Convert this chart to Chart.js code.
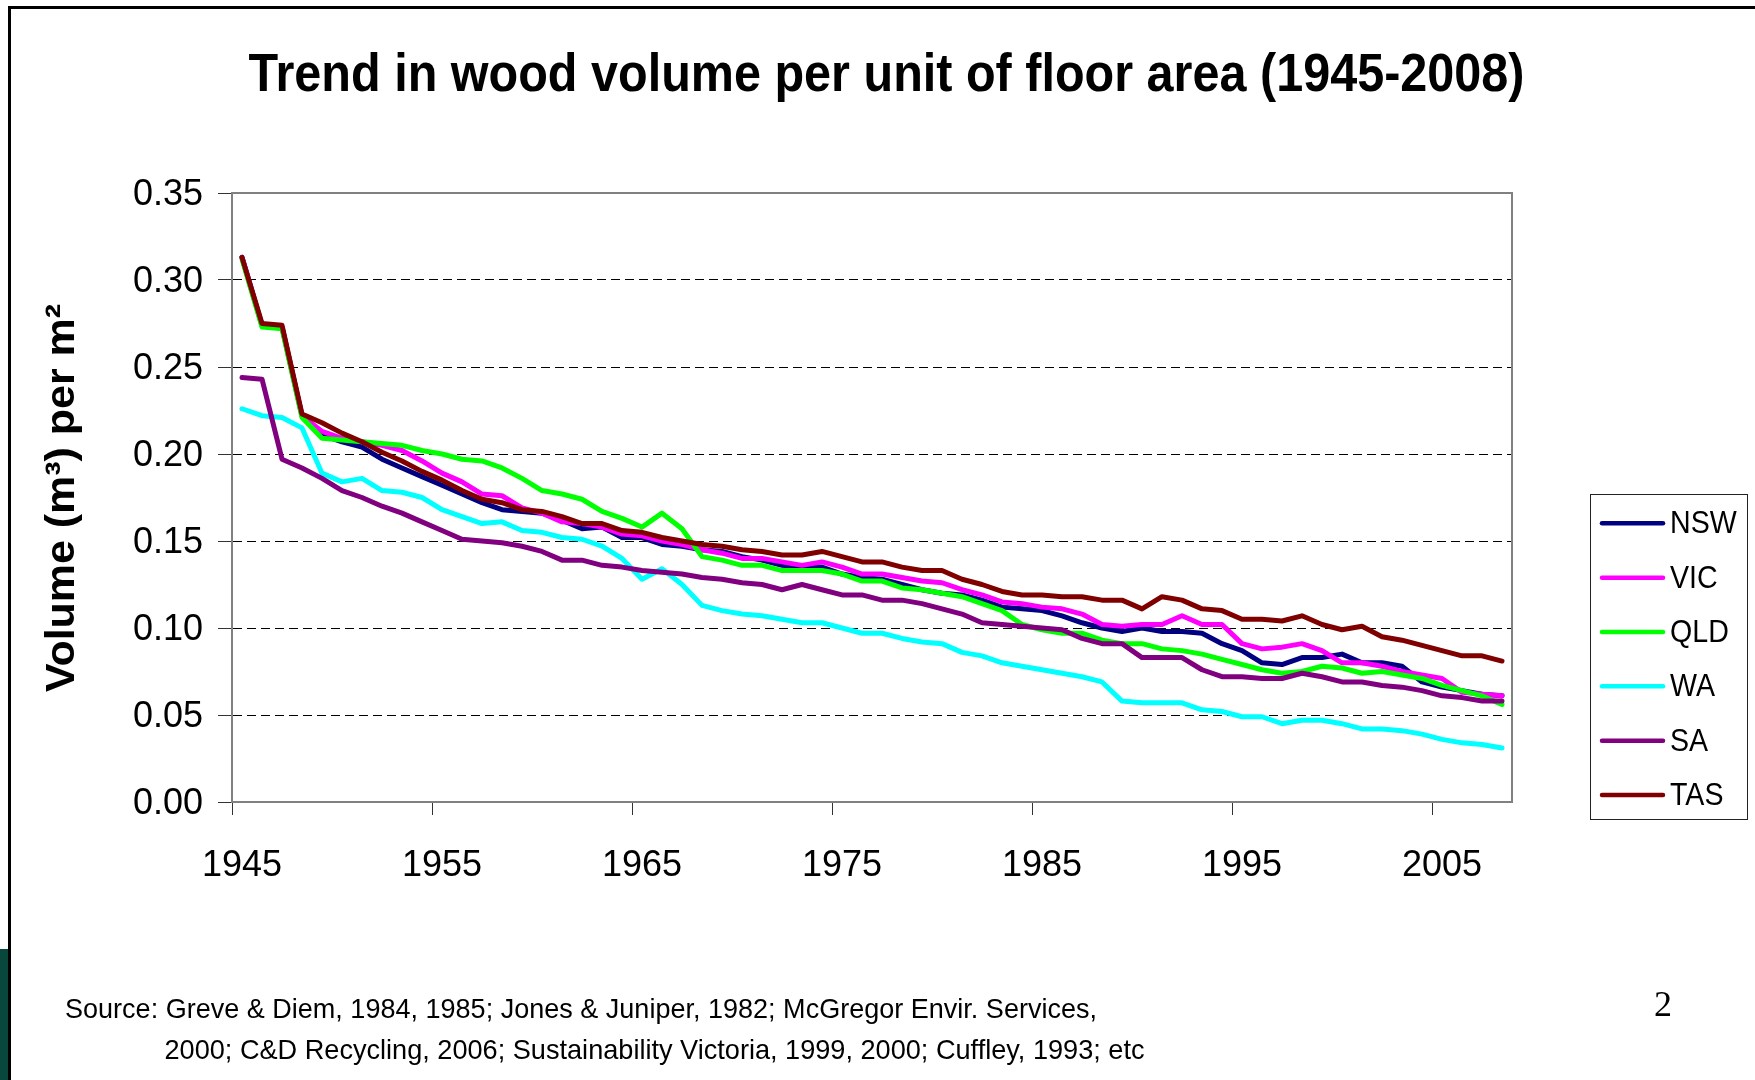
<!DOCTYPE html>
<html>
<head>
<meta charset="utf-8">
<script src="https://cdn.jsdelivr.net/npm/chart.js@4.4.1/dist/chart.umd.min.js"></script>
<style>
  html, body { margin: 0; padding: 0; background: #ffffff; }
  #wrap { width: 1755px; height: 1080px; position: relative; }
</style>
</head>
<body>
<div id="wrap"><canvas id="c" width="1755" height="1080"></canvas></div>
<script>
const years = [];
for (let y = 1945; y <= 2008; y++) years.push(String(y));

const seriesNames = ['NSW', 'VIC', 'QLD', 'WA', 'SA', 'TAS'];
const seriesColors = ['#000080', '#FF00FF', '#00FF00', '#00FFFF', '#800080', '#800000'];

const nsw = [
  0.313, 0.274, 0.273, 0.222, 0.211, 0.207, 0.204, 0.197, 0.192, 0.187,
  0.182, 0.177, 0.172, 0.168, 0.167, 0.166, 0.162, 0.157, 0.158, 0.152,
  0.152, 0.148, 0.147, 0.145, 0.144, 0.141, 0.139, 0.136, 0.135, 0.135,
  0.131, 0.129, 0.128, 0.125, 0.122, 0.120, 0.119, 0.116, 0.112, 0.111,
  0.110, 0.107, 0.103, 0.100, 0.098, 0.100, 0.098, 0.098, 0.097, 0.091,
  0.087, 0.080, 0.079, 0.083, 0.083, 0.085, 0.080, 0.080, 0.078, 0.069,
  0.066, 0.064, 0.062, 0.061
];
const vic = [
  0.313, 0.274, 0.273, 0.222, 0.213, 0.209, 0.207, 0.205, 0.202, 0.196,
  0.189, 0.184, 0.177, 0.176, 0.169, 0.166, 0.161, 0.160, 0.158, 0.154,
  0.153, 0.150, 0.148, 0.145, 0.143, 0.140, 0.140, 0.138, 0.136, 0.138,
  0.135, 0.131, 0.131, 0.129, 0.127, 0.126, 0.122, 0.119, 0.115, 0.114,
  0.112, 0.111, 0.108, 0.102, 0.101, 0.102, 0.102, 0.107, 0.102, 0.102,
  0.091, 0.088, 0.089, 0.091, 0.087, 0.080, 0.080, 0.078, 0.075, 0.073,
  0.071, 0.063, 0.062, 0.061
];
const qld = [
  0.312, 0.273, 0.272, 0.221, 0.209, 0.208, 0.207, 0.206, 0.205, 0.202,
  0.200, 0.197, 0.196, 0.192, 0.186, 0.179, 0.177, 0.174, 0.167, 0.163,
  0.158, 0.166, 0.157, 0.141, 0.139, 0.136, 0.136, 0.133, 0.133, 0.133,
  0.131, 0.127, 0.127, 0.123, 0.122, 0.120, 0.118, 0.114, 0.110, 0.102,
  0.099, 0.097, 0.097, 0.093, 0.091, 0.091, 0.088, 0.087, 0.085, 0.082,
  0.079, 0.076, 0.074, 0.075, 0.078, 0.077, 0.074, 0.075, 0.073, 0.071,
  0.067, 0.064, 0.061, 0.056
];
const wa = [
  0.226, 0.222, 0.221, 0.215, 0.189, 0.184, 0.186, 0.179, 0.178, 0.175,
  0.168, 0.164, 0.160, 0.161, 0.156, 0.155, 0.152, 0.151, 0.147, 0.140,
  0.128, 0.134, 0.125, 0.113, 0.110, 0.108, 0.107, 0.105, 0.103, 0.103,
  0.100, 0.097, 0.097, 0.094, 0.092, 0.091, 0.086, 0.084, 0.080, 0.078,
  0.076, 0.074, 0.072, 0.069, 0.058, 0.057, 0.057, 0.057, 0.053, 0.052,
  0.049, 0.049, 0.045, 0.047, 0.047, 0.045, 0.042, 0.042, 0.041, 0.039,
  0.036, 0.034, 0.033, 0.031
];
const sa = [
  0.244, 0.243, 0.197, 0.192, 0.186, 0.179, 0.175, 0.170, 0.166, 0.161,
  0.156, 0.151, 0.150, 0.149, 0.147, 0.144, 0.139, 0.139, 0.136, 0.135,
  0.133, 0.132, 0.131, 0.129, 0.128, 0.126, 0.125, 0.122, 0.125, 0.122,
  0.119, 0.119, 0.116, 0.116, 0.114, 0.111, 0.108, 0.103, 0.102, 0.101,
  0.100, 0.099, 0.094, 0.091, 0.091, 0.083, 0.083, 0.083, 0.076, 0.072,
  0.072, 0.071, 0.071, 0.074, 0.072, 0.069, 0.069, 0.067, 0.066, 0.064,
  0.061, 0.060, 0.058, 0.058
];
const tas = [
  0.313, 0.275, 0.274, 0.223, 0.218, 0.212, 0.207, 0.201, 0.196, 0.190,
  0.185, 0.179, 0.174, 0.172, 0.168, 0.167, 0.164, 0.160, 0.160, 0.156,
  0.155, 0.152, 0.150, 0.148, 0.147, 0.145, 0.144, 0.142, 0.142, 0.144,
  0.141, 0.138, 0.138, 0.135, 0.133, 0.133, 0.128, 0.125, 0.121, 0.119,
  0.119, 0.118, 0.118, 0.116, 0.116, 0.111, 0.118, 0.116, 0.111, 0.110,
  0.105, 0.105, 0.104, 0.107, 0.102, 0.099, 0.101, 0.095, 0.093, 0.090,
  0.087, 0.084, 0.084, 0.081
];
const seriesValues = [nsw, vic, qld, wa, sa, tas];

const titleText = 'Trend in wood volume per unit of floor area (1945-2008)';
const yTitleText = 'Volume (m\u00B3) per m\u00B2';
const sourceLine1 = 'Source: Greve & Diem, 1984, 1985; Jones & Juniper, 1982; McGregor Envir. Services,';
const sourceLine2 = '2000; C&D Recycling, 2006; Sustainability Victoria, 1999, 2000; Cuffley, 1993; etc';
const pageNumber = '2';

const SANS = '"Liberation Sans", Arial, sans-serif';

function drawFitted(ctx, text, x, y, font, width, align) {
  ctx.save();
  ctx.font = font;
  const w = ctx.measureText(text).width;
  const s = width / w;
  ctx.translate(x, y);
  ctx.scale(s, 1);
  ctx.textAlign = align;
  ctx.textBaseline = 'alphabetic';
  ctx.fillStyle = '#000';
  ctx.fillText(text, 0, 0);
  ctx.restore();
}

const decor = {
  id: 'decor',
  beforeDraw(chart) {
    const ctx = chart.ctx;
    ctx.save();
    ctx.fillStyle = '#ffffff';
    ctx.fillRect(0, 0, chart.width, chart.height);
    ctx.fillStyle = '#000000';
    ctx.fillRect(8, 6, chart.width - 8, 3);
    ctx.fillRect(8, 6, 3, chart.height - 6);
    ctx.fillStyle = '#07473c';
    ctx.fillRect(0, 949, 8, chart.height - 949);
    ctx.restore();
  },
  beforeDatasetsDraw(chart) {
    const ctx = chart.ctx;
    const a = chart.chartArea;
    ctx.save();
    ctx.strokeStyle = '#808080';
    ctx.lineWidth = 2;
    ctx.beginPath();
    ctx.moveTo(a.left, a.top);
    ctx.lineTo(a.right, a.top);
    ctx.lineTo(a.right, a.bottom);
    ctx.stroke();
    ctx.restore();
  },
  afterDraw(chart) {
    const ctx = chart.ctx;
    drawFitted(ctx, titleText, 248.5, 90.5, 'bold 53px ' + SANS, 1276, 'left');
    ctx.save();
    ctx.translate(74, 498);
    ctx.rotate(-Math.PI / 2);
    drawFitted(ctx, yTitleText, 0, 0, 'bold 40px ' + SANS, 388, 'center');
    ctx.restore();
    drawFitted(ctx, sourceLine1, 65, 1018, '28px ' + SANS, 1032, 'left');
    drawFitted(ctx, sourceLine2, 164.5, 1059, '28px ' + SANS, 980, 'left');
    ctx.save();
    ctx.font = '36px "Liberation Serif", "Times New Roman", serif';
    ctx.fillStyle = '#000';
    ctx.textAlign = 'center';
    ctx.fillText(pageNumber, 1663, 1016);
    ctx.restore();
    ctx.save();
    ctx.strokeStyle = '#222';
    ctx.lineWidth = 1;
    ctx.strokeRect(1590.5, 494.5, 157, 325);
    ctx.font = '32px ' + SANS;
    const sc = 66.7 / ctx.measureText('NSW').width;
    chart.data.datasets.forEach((ds, k) => {
      const y = 523.3 + 54.35 * k;
      ctx.strokeStyle = ds.borderColor;
      ctx.lineWidth = 4.5;
      ctx.lineCap = 'round';
      ctx.beginPath();
      ctx.moveTo(1602, y);
      ctx.lineTo(1663, y);
      ctx.stroke();
      ctx.save();
      ctx.translate(1670, y + 10);
      ctx.scale(sc, 1);
      ctx.fillStyle = '#000';
      ctx.textAlign = 'left';
      ctx.fillText(ds.label, 0, 0);
      ctx.restore();
    });
    ctx.restore();
  }
};

const datasets = seriesNames.map((name, i) => ({
  label: name,
  data: seriesValues[i],
  borderColor: seriesColors[i],
  backgroundColor: seriesColors[i],
  borderWidth: 5,
  pointRadius: 0,
  pointHoverRadius: 0,
  tension: 0,
  fill: false,
  borderJoinStyle: 'round',
  borderCapStyle: 'round',
  order: seriesNames.length - 1 - i
}));

new Chart(document.getElementById('c').getContext('2d'), {
  type: 'line',
  data: { labels: years, datasets: datasets },
  options: {
    responsive: false,
    animation: false,
    devicePixelRatio: 1,
    events: [],
    layout: { padding: { left: 0, top: 193, right: 243, bottom: 178 } },
    plugins: {
      legend: { display: false },
      title: { display: false },
      tooltip: { enabled: false }
    },
    scales: {
      x: {
        type: 'category',
        offset: true,
        grid: {
          offset: true,
          drawOnChartArea: false,
          drawTicks: true,
          tickLength: 13,
          lineWidth: 1,
          tickColor: (c) => (c.index !== undefined && c.index % 10 === 0) ? '#333333' : 'rgba(0,0,0,0)'
        },
        border: { color: '#808080', width: 2 },
        ticks: {
          autoSkip: false,
          maxRotation: 0,
          minRotation: 0,
          padding: 29,
          color: '#000',
          font: { family: SANS, size: 36 },
          callback: (v, i) => (i % 10 === 0 ? years[i] : '')
        },
        afterFit: (s) => { s.height = 100; }
      },
      y: {
        min: 0,
        max: 0.35,
        ticks: {
          stepSize: 0.05,
          padding: 15,
          labelOffset: 2,
          color: '#000',
          font: { family: SANS, size: 36 },
          callback: (v) => Number(v).toFixed(2)
        },
        grid: {
          lineWidth: 1,
          tickLength: 14,
          tickColor: '#333333',
          color: (c) => (c.tick && c.tick.value > 0.001 && c.tick.value < 0.349) ? '#000000' : 'rgba(0,0,0,0)'
        },
        border: { color: '#808080', width: 2, dash: [9, 5] },
        afterFit: (s) => { s.width = 232; }
      }
    }
  },
  plugins: [decor]
});
</script>
</body>
</html>
